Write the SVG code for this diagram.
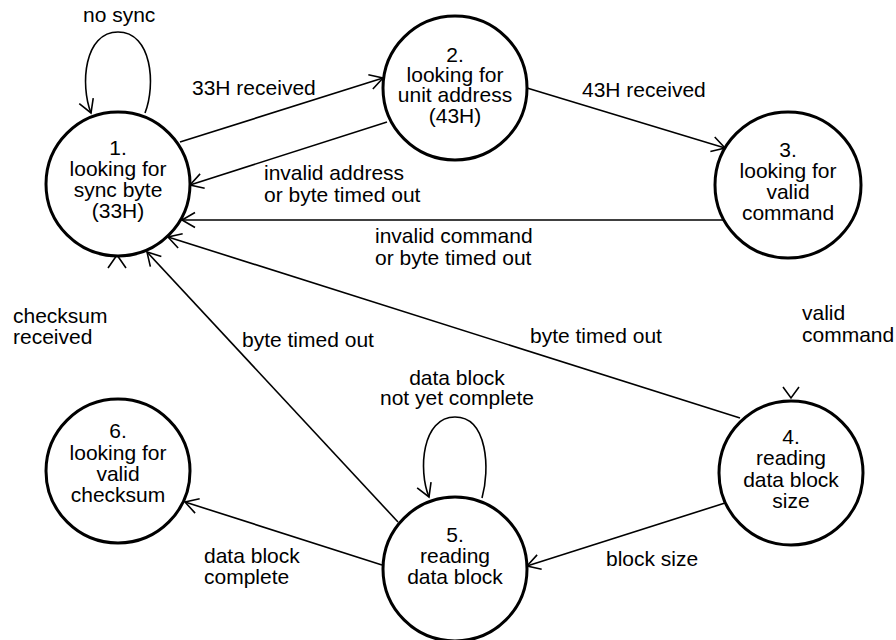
<svg xmlns="http://www.w3.org/2000/svg" width="896" height="640" viewBox="0 0 896 640">
  <style>
    .state { fill: #fff; stroke: #000; stroke-width: 3; }
    .edge { fill: none; stroke: #000; stroke-width: 1.6; }
    .head { fill: none; stroke: #000; stroke-width: 1.6; }
    text { font-family: "Liberation Sans", Arial, sans-serif; font-size: 21px; fill: #000; }
    .node-label { text-anchor: middle; }
  </style>
  <defs>
    <marker id="arrow" markerUnits="userSpaceOnUse" markerWidth="30" markerHeight="30"
            viewBox="-15 -15 30 30" refX="0" refY="0" orient="auto">
      <path d="M-13,-7.5 L0,0 L-13,7.5" fill="none" stroke="#000" stroke-width="1.6"/>
    </marker>
  </defs>

  <rect x="0" y="0" width="896" height="640" fill="#fff"/>

  <!-- transitions -->
  <g id="connectors">
    <path class="edge" d="M145,113 C156,85 152,32 118,32 C84,32 80,85 91,113" marker-end="url(#arrow)"/>
    <path class="edge" d="M180,142 L383,78" marker-end="url(#arrow)"/>
    <path class="edge" d="M387,122 L190,185" marker-end="url(#arrow)"/>
    <path class="edge" d="M527,88 L725,148" marker-end="url(#arrow)"/>
    <path class="edge" d="M724,220 L182,220" marker-end="url(#arrow)"/>
    <path class="edge" d="M740,418 L168,237" marker-end="url(#arrow)"/>
    <path class="edge" d="M398,522 L147,252" marker-end="url(#arrow)"/>
    <path class="edge" d="M725,503 L527,566" marker-end="url(#arrow)"/>
    <path class="edge" d="M382,565 L185,502" marker-end="url(#arrow)"/>
    <path class="edge" d="M482,498 C490,470 488,417 455,417 C422,417 418,470 429,497" marker-end="url(#arrow)"/>
    <!-- arrowheads of the checksum / valid command transitions -->
    <path class="head" d="M108,268 L117,255 L126,268"/>
    <path class="head" d="M783,387 L791,398 L799,387"/>

    <text x="83" y="22">no sync</text>
    <text x="192" y="95">33H received</text>
    <text x="582" y="97">43H received</text>
    <text x="264" y="180">invalid address</text>
    <text x="264" y="202">or byte timed out</text>
    <text x="375" y="243">invalid command</text>
    <text x="375" y="265">or byte timed out</text>
    <text x="13" y="323">checksum</text>
    <text x="13" y="344">received</text>
    <text x="242" y="347">byte timed out</text>
    <text x="530" y="343">byte timed out</text>
    <text x="802" y="320">valid</text>
    <text x="802" y="342">command</text>
    <text x="457" y="385" text-anchor="middle">data block</text>
    <text x="457" y="405" text-anchor="middle">not yet complete</text>
    <text x="204" y="563">data block</text>
    <text x="204" y="584">complete</text>
    <text x="606" y="566">block size</text>
  </g>

  <g id="state1">
    <circle class="state" cx="118" cy="184" r="72"/>
    <text class="node-label" x="118" y="155">1.</text>
    <text class="node-label" x="118" y="176">looking for</text>
    <text class="node-label" x="118" y="197">sync byte</text>
    <text class="node-label" x="118" y="218">(33H)</text>
  </g>

  <g id="state2">
    <circle class="state" cx="455" cy="88" r="72"/>
    <text class="node-label" x="455" y="62">2.</text>
    <text class="node-label" x="455" y="82">looking for</text>
    <text class="node-label" x="455" y="102">unit address</text>
    <text class="node-label" x="455" y="123">(43H)</text>
  </g>

  <g id="state3">
    <circle class="state" cx="788" cy="185" r="73"/>
    <text class="node-label" x="788" y="157">3.</text>
    <text class="node-label" x="788" y="178">looking for</text>
    <text class="node-label" x="788" y="199">valid</text>
    <text class="node-label" x="788" y="220">command</text>
  </g>

  <g id="state4">
    <circle class="state" cx="791" cy="473" r="72"/>
    <text class="node-label" x="791" y="444">4.</text>
    <text class="node-label" x="791" y="465">reading</text>
    <text class="node-label" x="791" y="487">data block</text>
    <text class="node-label" x="791" y="508">size</text>
  </g>

  <g id="state5">
    <circle class="state" cx="455" cy="569" r="72"/>
    <text class="node-label" x="455" y="542">5.</text>
    <text class="node-label" x="455" y="563">reading</text>
    <text class="node-label" x="455" y="584">data block</text>
  </g>

  <g id="state6">
    <circle class="state" cx="118" cy="471" r="72"/>
    <text class="node-label" x="118" y="438">6.</text>
    <text class="node-label" x="118" y="460">looking for</text>
    <text class="node-label" x="118" y="481">valid</text>
    <text class="node-label" x="118" y="502">checksum</text>
  </g>
</svg>
